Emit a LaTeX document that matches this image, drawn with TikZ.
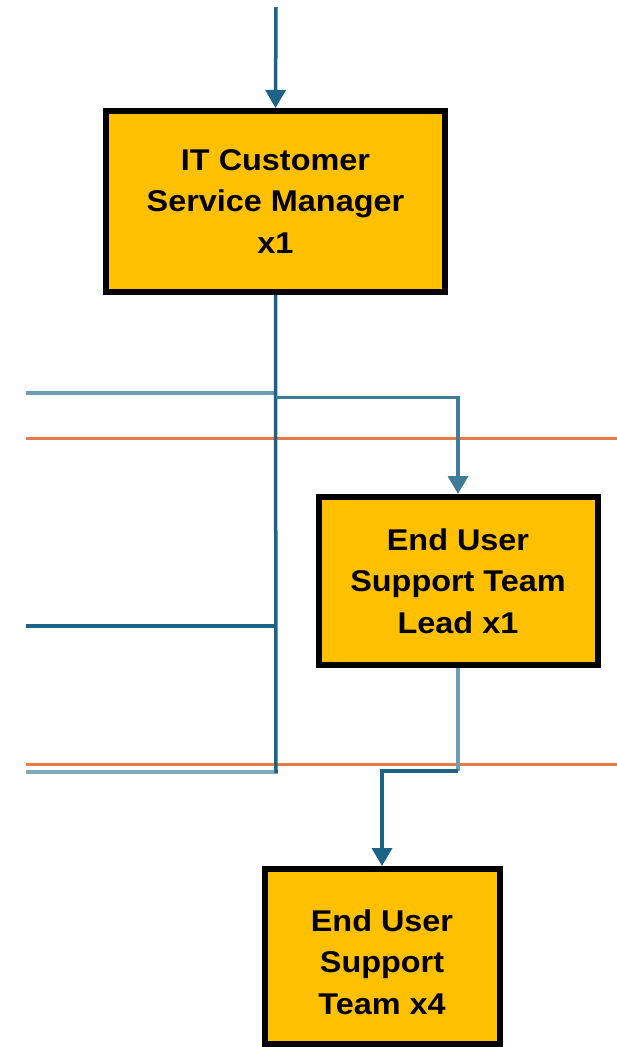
\documentclass[tikz,border=0pt]{standalone}
\usepackage{fontspec}
\setmainfont{Liberation Sans}[FakeStretch=1.08]
\usetikzlibrary{arrows.meta}
\definecolor{gold}{HTML}{FFC000}
\definecolor{lnblue}{HTML}{1C6387}
\definecolor{ltblue}{HTML}{6C9DB4}
\definecolor{midblue}{HTML}{3F7C98}
\definecolor{paleblue}{HTML}{80AABD}
\definecolor{orng}{HTML}{EA7A42}
\tikzset{
  rolebox/.style={draw=black, line width=6pt, fill=gold, inner sep=0pt,
    align=center, font=\bfseries\fontsize{30}{41.5}\selectfont},
  conn/.style={draw=lnblue, line width=3.5pt},
  lconn/.style={draw=ltblue, line width=3.5pt},
  arr/.style={-{Triangle[width=20pt,length=18pt]}},
  band/.style={draw=orng, line width=3pt},
}
\begin{document}
\begin{tikzpicture}[x=1pt,y=-1pt]
\useasboundingbox (0,0) rectangle (617,1047);
% nodes
\node[rolebox, minimum width=339pt, minimum height=181pt] (b1) at (275.5,201.5)
  {IT Customer\\Service Manager\\x1};
\node[rolebox, minimum width=279pt, minimum height=168pt] (b2) at (458,581)
  {End User\\Support Team\\Lead x1};
\node[rolebox, minimum width=235pt, minimum height=175pt] (b3) at (382,956.5)
  {\raisebox{-8pt}[\height][\depth]{\begin{tabular}{@{}c@{}}End User\\Support\\Team x4\end{tabular}}};
% helper coordinates
\coordinate (top) at (276,7);
\coordinate (trunk) at (276,773);
\coordinate (l1) at (26,393);
\coordinate (j1) at (276,393);
\coordinate (br) at (276,397.5);
\coordinate (l2) at (26,626);
\coordinate (j2) at (276,626);
\coordinate (l3) at (26,772);
\coordinate (j3) at (278,772);
\coordinate (o1a) at (26,438);
\coordinate (o1b) at (617,438);
\coordinate (o2a) at (26,764);
\coordinate (o2b) at (617,764);
\coordinate (k1) at (458,771);
% orange bands
\draw[band] (o1a) -- (o1b);
\draw[band] (o2a) -- (o2b);
% connectors
\draw[conn, arr] (top) -- (b1.north);
\draw[lconn] (l1) -- (j1);
\draw[conn] (l2) -- (j2);
\draw[draw=paleblue, line width=4.5pt] (l3) -- (j3);
\draw[conn] (b1.south) -- (trunk);
\draw[draw=midblue, line width=3.5pt, arr] (br) -| (b2.north);
\draw[lconn] (b2.south) -- (k1);
\draw[conn, arr] (k1) -| (b3.north);
\end{tikzpicture}
\end{document}
